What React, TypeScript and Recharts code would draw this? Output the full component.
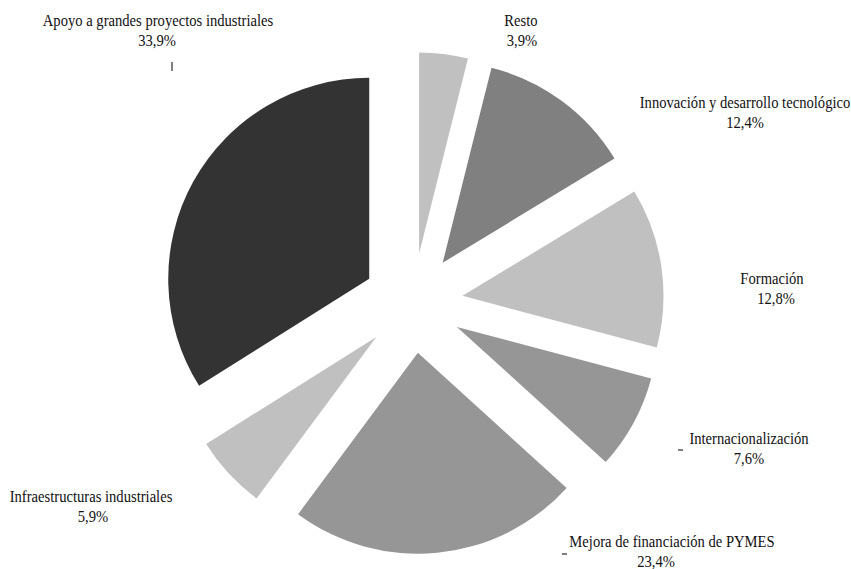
import React from "react";
import { PieChart, Pie, Cell } from "recharts";

const categories = [
  "Resto",
  "Innovación y desarrollo tecnológico",
  "Formación",
  "Internacionalización",
  "Mejora de financiación de PYMES",
  "Infraestructuras industriales",
  "Apoyo a grandes proyectos industriales",
];
const values = [3.9, 12.4, 12.8, 7.6, 23.4, 5.9, 33.9];
const valueLabels = ["3,9%", "12,4%", "12,8%", "7,6%", "23,4%", "5,9%", "33,9%"];
const colors = ["#c0c0c0", "#808080", "#c0c0c0", "#969696", "#969696", "#c0c0c0", "#333333"];

// label placement: [center x of name, baseline of name, center x of value]
const labelPos: [number, number, number][] = [
  [521, 26, 522],
  [745, 108, 745],
  [772, 284, 776],
  [749, 444, 749],
  [672, 547, 656],
  [91, 502, 93],
  [158, 26, 157],
];
// small leader-line stubs: [x1, y1, x2, y2]
const stubs: [number, number, number, number][] = [
  [172, 62, 172, 71],
  [678, 450, 683, 450],
  [562, 554, 567, 554],
];

const data = categories.map((name, i) => ({ name, value: values[i] }));
const total = values.reduce((a, b) => a + b, 0);

const CX = 413;
const CY = 303;
const EXPLODE = 50;
const R = 201;

const mids: number[] = [];
{
  let cum = 0;
  for (const v of values) {
    mids.push(90 - (360 * (cum + v / 2)) / total);
    cum += v;
  }
}

const FONT = "Liberation Serif";
const SX = 0.86;
const LINE = 20;

function Label({ i }: { i: number }) {
  const [x, y, x2] = labelPos[i];
  return (
    <g>
      <g transform={`translate(${x},${y}) scale(${SX},1)`}>
        <text x={0} y={0} textAnchor="middle" fontFamily={FONT} fontSize={17} fill="#111">
          {categories[i]}
        </text>
      </g>
      <g transform={`translate(${x2},${y + LINE}) scale(${SX},1)`}>
        <text x={0} y={0} textAnchor="middle" fontFamily={FONT} fontSize={17} fill="#111">
          {valueLabels[i]}
        </text>
      </g>
    </g>
  );
}

export default function App() {
  return (
    <div style={{ position: "absolute", left: 0, top: 0, width: 851, height: 569, background: "#fff" }}>
      <PieChart width={851} height={569} margin={{ top: 0, right: 0, bottom: 0, left: 0 }}>
        {values.map((_, t) => {
          const a = (mids[t] * Math.PI) / 180;
          const cx = CX + EXPLODE * Math.cos(a);
          const cy = CY - EXPLODE * Math.sin(a);
          return (
            <Pie
              key={t}
              data={data}
              dataKey="value"
              nameKey="name"
              cx={cx}
              cy={cy}
              outerRadius={R}
              innerRadius={0}
              startAngle={90}
              endAngle={-270}
              stroke="none"
              isAnimationActive={false}
              labelLine={false}
              label={false}
            >
              {data.map((d, i) => (
                <Cell key={d.name} fill={i === t ? colors[i] : "transparent"} />
              ))}
            </Pie>
          );
        })}
      </PieChart>
      <svg
        width={851}
        height={569}
        style={{ position: "absolute", left: 0, top: 0, pointerEvents: "none" }}
      >
        {categories.map((_, i) => (
          <Label key={i} i={i} />
        ))}
        {stubs.map(([x1, y1, x2, y2], k) => (
          <line key={k} x1={x1} y1={y1} x2={x2} y2={y2} stroke="#000" strokeWidth={1} />
        ))}
      </svg>
    </div>
  );
}
